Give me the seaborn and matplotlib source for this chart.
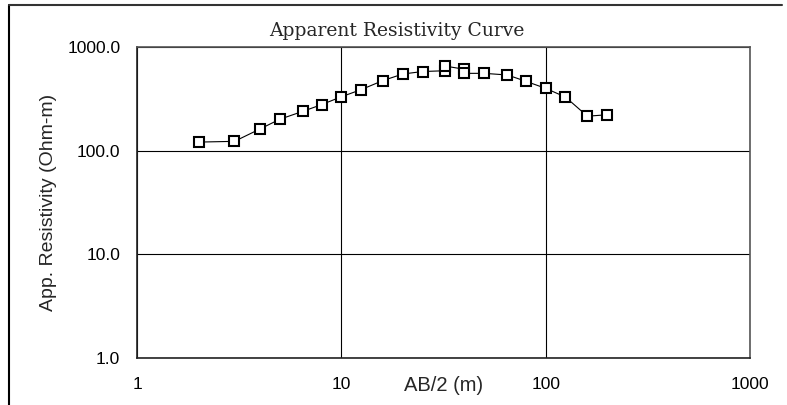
import matplotlib
matplotlib.use("Agg")
import matplotlib.pyplot as plt
import matplotlib.ticker as mticker
import numpy as np
import pandas as pd
import seaborn as sns

# Données du sondage électrique (AB/2 en m, résistivité apparente en Ohm-m)
ab2 = [2, 3, 4, 5, 6.5, 8, 10, 12.5, 16, 20, 25, 32, 32, 40, 40, 50, 65, 80, 100, 125, 160, 200]
rho = [121, 123, 162, 201, 240, 278, 331, 388, 475, 549, 580, 590, 656, 610, 557, 557, 537, 467, 399, 329, 215, 222]

x_ticks = [1, 10, 100, 1000]
y_ticks = [1, 10, 100, 1000]
y_tick_labels = ["1.0", "10.0", "100.0", "1000.0"]

df = pd.DataFrame({"AB2": ab2, "Rho": rho})

sns.set_style("white")
plt.rcParams['font.family'] = ['Liberation Sans', 'DejaVu Sans']

fig = plt.figure(figsize=(7.87, 4.05), dpi=100)
ax = fig.add_axes([137 / 787, 1 - 358 / 405, 613 / 787, 311 / 405])

sns.lineplot(data=df, x="AB2", y="Rho", sort=False, estimator=None, ax=ax,
             color="black", linewidth=0.8, marker="s", markersize=6.5,
             markerfacecolor="white", markeredgecolor="black", markeredgewidth=1.5)

ax.set_xscale("log")
ax.set_yscale("log")
ax.set_xlim(1, 1000)
ax.set_ylim(1, 1000)
ax.set_xticks(x_ticks)
ax.set_xticklabels([str(t) for t in x_ticks])
ax.set_yticks(y_ticks)
ax.set_yticklabels(y_tick_labels)
ax.xaxis.set_minor_locator(mticker.NullLocator())
ax.yaxis.set_minor_locator(mticker.NullLocator())
ax.tick_params(axis="both", length=0, labelsize=12.5, colors="black")
ax.tick_params(axis="x", pad=14)
ax.tick_params(axis="y", pad=12)

ax.grid(True, which="major", color="black", linewidth=0.8)
for side in ["top", "right"]:
    ax.spines[side].set_color("#555555")
    ax.spines[side].set_linewidth(1.2)
for side in ["left", "bottom"]:
    ax.spines[side].set_color("#222222")
    ax.spines[side].set_linewidth(1.2)

ax.set_title("Apparent Resistivity Curve", family=["DejaVu Serif"],
             fontsize=13.5, pad=8, x=(397 - 137) / 613)
ax.set_ylabel("App. Resistivity (Ohm-m)", fontsize=14)
ax.yaxis.set_label_coords(-0.13, 0.5)
ax.set_xlabel("AB/2 (m)", fontsize=14.5)
ax.xaxis.set_label_coords(0.5, -0.058)

# Cadre de la figure (bords gauche et haut visibles)
fig.add_artist(plt.Line2D([9 / 787, 9 / 787], [0, 1 - 5 / 405], color="black", linewidth=1.5))
fig.add_artist(plt.Line2D([9 / 787, 782 / 787], [1 - 5 / 405, 1 - 5 / 405], color="#333333", linewidth=1.5))

fig.savefig("out.png", dpi=100)
